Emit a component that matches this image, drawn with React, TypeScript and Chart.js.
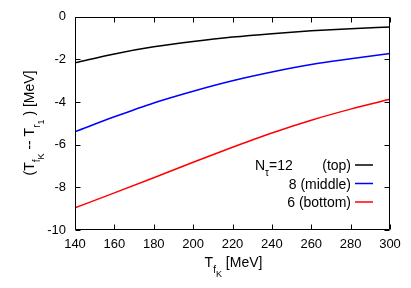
import React, { useEffect, useRef } from 'react';
import { Chart, registerables } from 'chart.js';
Chart.register(...registerables);

const temps = [140, 160, 180, 200, 220, 240, 260, 280, 300];
const ntau12 = [-2.16, -1.74, -1.41, -1.16, -0.95, -0.79, -0.66, -0.56, -0.48];
const ntau8 = [-5.39, -4.69, -4.04, -3.49, -3.0, -2.59, -2.24, -1.97, -1.72];
const ntau6 = [-8.96, -8.26, -7.55, -6.82, -6.12, -5.45, -4.85, -4.33, -3.87];
const xTicks = [140, 160, 180, 200, 220, 240, 260, 280, 300];
const yTicks = [0, -2, -4, -6, -8, -10];
const seriesColors = ['#000000', '#0000ff', '#ff0000'];
const legendRows = ['(top)', '8 (middle)', '6 (bottom)'];

type Seg = { t: string; l: number };
const FONT = '"Liberation Sans", Arial, sans-serif';
const sizes = [14, 10, 9];
const offs = [0, 6, 9.5];

function richWidth(ctx: CanvasRenderingContext2D, segs: Seg[]) {
  let w = 0;
  for (const s of segs) {
    ctx.font = `${sizes[s.l]}px ${FONT}`;
    w += ctx.measureText(s.t).width;
  }
  return w;
}
function drawRich(ctx: CanvasRenderingContext2D, segs: Seg[], x: number, y: number) {
  ctx.textAlign = 'left';
  ctx.textBaseline = 'alphabetic';
  for (const s of segs) {
    ctx.font = `${sizes[s.l]}px ${FONT}`;
    ctx.fillText(s.t, x, y + offs[s.l]);
    x += ctx.measureText(s.t).width;
  }
}

const xTitle: Seg[] = [
  { t: 'T', l: 0 }, { t: 'f', l: 1 }, { t: 'K', l: 2 }, { t: ' [MeV]', l: 0 },
];
const yTitle: Seg[] = [
  { t: '(T', l: 0 }, { t: 'f', l: 1 }, { t: 'K', l: 2 }, { t: ' -- T', l: 0 },
  { t: 'r', l: 1 }, { t: '1', l: 2 }, { t: ' ) [MeV]', l: 0 },
];

const framePlugin = {
  id: 'frame',
  afterDraw(chart: any) {
    const ctx: CanvasRenderingContext2D = chart.ctx;
    const { left, right, top, bottom } = chart.chartArea;
    const xs = chart.scales.x;
    const ys = chart.scales.y;
    ctx.save();
    ctx.strokeStyle = '#000';
    ctx.lineWidth = 1;
    ctx.beginPath();
    const L = Math.round(left) + 0.5, R = Math.round(right) - 0.5;
    const T = Math.round(top) + 0.5, B = Math.round(bottom) - 0.5;
    ctx.rect(L, T, R - L, B - T);
    const tl = 5;
    for (const v of xTicks) {
      const px = Math.round(xs.getPixelForValue(v)) + 0.5;
      ctx.moveTo(px, B); ctx.lineTo(px, B - tl);
      ctx.moveTo(px, T); ctx.lineTo(px, T + tl);
    }
    for (const v of yTicks) {
      const py = Math.round(ys.getPixelForValue(v)) + 0.5;
      ctx.moveTo(L, py); ctx.lineTo(L + tl, py);
      ctx.moveTo(R, py); ctx.lineTo(R - tl, py);
    }
    ctx.stroke();

    ctx.fillStyle = '#000';
    // x title
    const xw = richWidth(ctx, xTitle);
    drawRich(ctx, xTitle, (left + right) / 2 + 1 - xw / 2, 267);
    // y title
    const yw = richWidth(ctx, yTitle);
    ctx.save();
    ctx.translate(34, 123);
    ctx.rotate(-Math.PI / 2);
    drawRich(ctx, yTitle, -yw / 2, 0);
    ctx.restore();

    // legend
    const textRight = 351;
    const rows = [165, 183.5, 202];
    rows.forEach((cy, i) => {
      ctx.font = `14px ${FONT}`;
      ctx.textAlign = 'right';
      ctx.textBaseline = 'alphabetic';
      ctx.fillStyle = '#000';
      ctx.fillText(legendRows[i], textRight, cy + 5);
      ctx.strokeStyle = seriesColors[i];
      ctx.lineWidth = 1.5;
      ctx.beginPath();
      ctx.moveTo(355, cy); ctx.lineTo(373, cy);
      ctx.stroke();
    });
    drawRich(ctx, [{ t: 'N', l: 0 }, { t: 'τ', l: 1 }, { t: '=12', l: 0 }], 255, rows[0] + 5);
    ctx.restore();
  },
};

export default function App() {
  const ref = useRef<HTMLCanvasElement | null>(null);
  useEffect(() => {
    document.body.style.margin = '0';
    const canvas = ref.current!;
    const mk = (vals: number[]) => temps.map((t, i) => ({ x: t, y: vals[i] }));
    const chart = new Chart(canvas, {
      type: 'line',
      data: {
        datasets: [
          { label: 'Nτ=12 (top)', data: mk(ntau12), borderColor: seriesColors[0] },
          { label: '8 (middle)', data: mk(ntau8), borderColor: seriesColors[1] },
          { label: '6 (bottom)', data: mk(ntau6), borderColor: seriesColors[2] },
        ].map((d) => ({ ...d, borderWidth: 1.5, pointRadius: 0, fill: false, cubicInterpolationMode: 'monotone' as const })),
      },
      plugins: [framePlugin],
      options: {
        animation: false,
        responsive: false,
        devicePixelRatio: 1,
        layout: { padding: { top: 16, right: 21, left: 0, bottom: 0 } },
        plugins: { legend: { display: false }, tooltip: { enabled: false } },
        scales: {
          x: {
            type: 'linear',
            min: 140,
            max: 300,
            afterFit: (s: any) => { s.height = 58; },
            afterBuildTicks: (s: any) => { s.ticks = xTicks.map((v) => ({ value: v })); },
            grid: { display: false, drawTicks: false },
            border: { display: false },
            ticks: { padding: 7, color: '#000', font: { family: FONT, size: 13 } },
          },
          y: {
            type: 'linear',
            min: -10,
            max: 0,
            afterFit: (s: any) => { s.width = 75; },
            afterBuildTicks: (s: any) => { s.ticks = yTicks.map((v) => ({ value: v })); },
            grid: { display: false, drawTicks: false },
            border: { display: false },
            ticks: { padding: 9, color: '#000', font: { family: FONT, size: 13 } },
          },
        },
      },
    } as any);
    return () => chart.destroy();
  }, []);
  return <canvas ref={ref} width={411} height={288} style={{ width: 411, height: 288, display: 'block' }} />;
}
